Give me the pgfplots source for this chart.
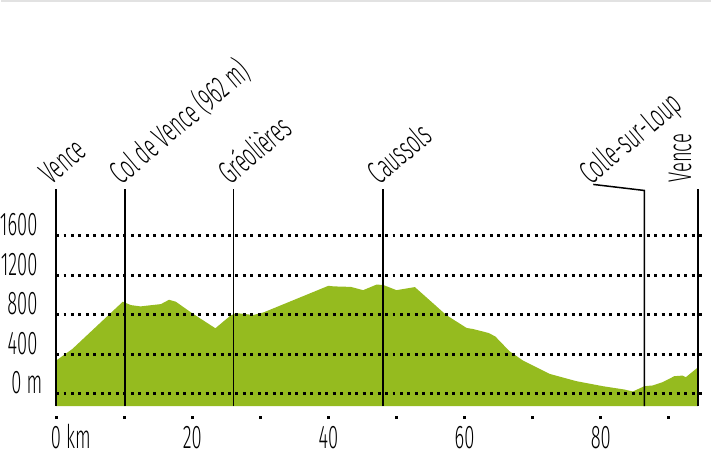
\documentclass[border=0pt]{standalone}
\usepackage{fontspec}
\setmainfont{Fira Sans Light}[FakeStretch=0.56]
\usepackage{pgfplots}
\pgfplotsset{compat=1.18}
\definecolor{relief}{RGB}{149,187,31}
\definecolor{rule}{RGB}{226,226,226}
\newcommand\lab{\fontsize{33}{36}\selectfont}

\begin{document}
\begin{tikzpicture}
\begin{axis}[
  x=6.83bp, y=0.0993bp,
  xmin=0, xmax=95, ymin=-240, ymax=1650,
  axis x line=bottom, axis y line=left,
  axis line style={draw=none},
  clip=false, axis on top,
  xtick={0,10,...,90},
  xticklabels={0\rlap{ km},,20,,40,,60,,80,},
  ytick={0,400,...,1600},
  yticklabels={0 m\kern-5bp,400,800,1200,1600},
  tick align=center, major tick length=3bp,
  xtick style={black, line width=3bp},
  ytick style={draw=none},
  ymajorgrids,
  grid style={black, line width=3bp, dash pattern=on 3bp off 4.5bp},
  xticklabel style={font=\lab, anchor=base, yshift=-30bp, inner sep=0pt, text depth=0pt},
  yticklabel style={font=\lab, anchor=base east, xshift=-17bp, inner sep=0pt},
]
% elevation profile (km, m)
\addplot[fill=relief, draw=none] coordinates {
  (0,-125) (0,335) (2.4,453) (9.8,930) (11,896) (12.4,883) (15.4,906)
  (16.6,950) (17.6,930) (19.8,823) (23.4,662) (25.6,789) (26.4,816)
  (29.0,796) (30.5,823) (40.0,1091) (40.8,1085) (43.3,1080) (45.1,1047)
  (47.1,1104) (48.1,1098) (50.0,1047) (52.7,1078) (57.3,796) (60.3,665)
  (61.2,655) (63.5,615) (64.5,580) (66.6,430) (68.6,335) (72.5,201) (76.4,128)
  (80.3,77) (83.5,43) (84.7,23) (86.4,77) (87.6,84) (89.1,118)
  (90.8,178) (92.0,184) (92.5,168) (94.3,269) (94.3,-125)
};

% places
\draw[line width=1.5bp] (axis cs:0,-125) -- (axis cs:0,2064);
\draw[line width=1.5bp] (axis cs:10.1,-125) -- (axis cs:10.1,2064);
\draw[line width=1.5bp] (axis cs:26.1,-125) -- (axis cs:26.1,2064);
\draw[line width=1.5bp] (axis cs:48.0,-125) -- (axis cs:48.0,2064);
\draw[line width=1.5bp] (axis cs:78.9,2115) -- (axis cs:86.4,2054) -- (axis cs:86.4,-125);
\draw[line width=1.5bp] (axis cs:94.3,-125) -- (axis cs:94.3,2064);

\node[rotate=40, anchor=base west, font=\lab, inner sep=0pt] at (axis cs:-0.7,2105) {Vence};
\node[rotate=40, anchor=base west, font=\lab, inner sep=0pt] at (axis cs:9.6,2105) {Col de Vence (962 m)};
\node[rotate=40, anchor=base west, font=\lab, inner sep=0pt] at (axis cs:25.6,2105) {Gréolières};
\node[rotate=40, anchor=base west, font=\lab, inner sep=0pt] at (axis cs:47.5,2105) {Caussols};
\node[rotate=40, anchor=base west, font=\lab, inner sep=0pt] at (axis cs:78.6,2105) {Colle-sur-Loup};
\node[rotate=90, anchor=base west, font=\lab, inner sep=0pt] at (axis cs:93.27,2135) {Vence};

% thin rule along the top edge
\draw[rule, line width=2bp] (axis cs:-8.05,3968) -- (axis cs:96.19,3968);
\path (axis cs:-8.05,-604) rectangle (axis cs:96.19,3978);
\end{axis}
\end{tikzpicture}
\end{document}
